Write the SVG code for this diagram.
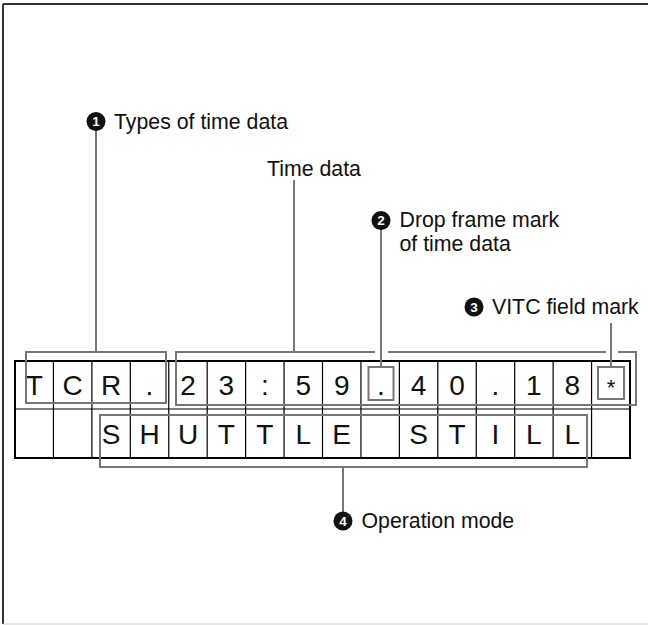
<svg xmlns="http://www.w3.org/2000/svg" width="648" height="625" viewBox="0 0 648 625">
<style>
.lbl{font-family:"Liberation Sans",Arial,sans-serif;font-size:21.3px;fill:#111}
.cell{font-family:"Liberation Sans",Arial,sans-serif;font-size:28px;fill:#111;text-anchor:middle}
.num{font-family:"Liberation Sans",Arial,sans-serif;font-size:13.5px;font-weight:bold;fill:#fff;text-anchor:middle}
.dot{fill:#111}
.br{fill:none;stroke:#777;stroke-width:2}
.grid{fill:none;stroke:#000;stroke-width:1.2}
.outer{fill:none;stroke:#000;stroke-width:2}
</style>
<rect x="0" y="0" width="648" height="625" fill="#fff"/>
<g id="frame">
<line x1="3" y1="4" x2="648" y2="4" stroke="#333" stroke-width="2"/>
<line x1="3" y1="4" x2="3" y2="624" stroke="#333" stroke-width="2"/>
<line x1="3" y1="624" x2="648" y2="624" stroke="#ccc" stroke-width="1"/>
</g>
<g id="display">
<rect class="outer" x="15" y="361" width="615" height="97"/>
<line class="grid" x1="15" y1="409" x2="630" y2="409"/>
<path class="grid" d="M53.44 361V458M91.88 361V458M130.31 361V458M168.75 361V458M207.19 361V458M245.63 361V458M284.06 361V458M322.5 361V458M360.94 361V458M399.38 361V458M437.81 361V458M476.25 361V458M514.69 361V458M553.13 361V458M591.56 361V458"/>
<g id="row1">
<text class="cell" x="34.2" y="395">T</text>
<text class="cell" x="72.7" y="395">C</text>
<text class="cell" x="111.1" y="395">R</text>
<text class="cell" x="149.5" y="395">.</text>
<text class="cell" x="188" y="395">2</text>
<text class="cell" x="226.4" y="395">3</text>
<text class="cell" x="264.8" y="395">:</text>
<text class="cell" x="303.3" y="395">5</text>
<text class="cell" x="341.7" y="395">9</text>
<text class="cell" x="381" y="395">.</text>
<text class="cell" x="418.6" y="395">4</text>
<text class="cell" x="457" y="395">0</text>
<text class="cell" x="495.5" y="395">.</text>
<text class="cell" x="533.9" y="395">1</text>
<text class="cell" x="572.3" y="395">8</text>
<text class="cell" x="611" y="395" style="font-size:22px">*</text>
</g>
<g id="row2">
<text class="cell" x="111.1" y="444">S</text>
<text class="cell" x="149.5" y="444">H</text>
<text class="cell" x="188" y="444">U</text>
<text class="cell" x="226.4" y="444">T</text>
<text class="cell" x="264.8" y="444">T</text>
<text class="cell" x="303.3" y="444">L</text>
<text class="cell" x="341.7" y="444">E</text>
<text class="cell" x="418.6" y="444">S</text>
<text class="cell" x="457" y="444">T</text>
<text class="cell" x="495.5" y="444">I</text>
<text class="cell" x="533.9" y="444">L</text>
<text class="cell" x="572.3" y="444">L</text>
</g>
</g>
<g id="brackets">
<rect id="b-types" class="br" x="26" y="352" width="140" height="51"/>
<path id="b-time" class="br" d="M375 352H176V405H636V352H618M606 352H388"/>
<rect id="b-drop" class="br" x="368.5" y="367" width="25" height="33"/>
<rect id="b-vitc" class="br" x="598" y="367" width="26" height="32"/>
<rect id="b-mode" class="br" x="100" y="415" width="487" height="52"/>
</g>
<g id="connectors" class="br">
<line x1="96" y1="130" x2="96" y2="352"/>
<line x1="294" y1="180" x2="294" y2="352"/>
<line x1="381" y1="229" x2="381" y2="367"/>
<line x1="611" y1="323" x2="611" y2="367"/>
<line x1="343" y1="467" x2="343" y2="512"/>
</g>
<g id="label1">
<circle class="dot" cx="96" cy="121.5" r="9.5"/>
<text class="num" x="96" y="126.3">1</text>
<text class="lbl" x="114" y="128.5">Types of time data</text>
</g>
<g id="label-time">
<text class="lbl" x="267" y="176">Time data</text>
</g>
<g id="label2">
<circle class="dot" cx="381" cy="220.5" r="9.5"/>
<text class="num" x="381" y="225.3">2</text>
<text class="lbl" x="399.5" y="227">Drop frame mark</text>
<text class="lbl" x="399.5" y="251">of time data</text>
</g>
<g id="label3">
<circle class="dot" cx="474" cy="307" r="9.5"/>
<text class="num" x="474" y="311.8">3</text>
<text class="lbl" x="492" y="314">VITC field mark</text>
</g>
<g id="label4">
<circle class="dot" cx="343" cy="521" r="9.5"/>
<text class="num" x="343" y="525.8">4</text>
<text class="lbl" x="361.5" y="528">Operation mode</text>
</g>
</svg>
